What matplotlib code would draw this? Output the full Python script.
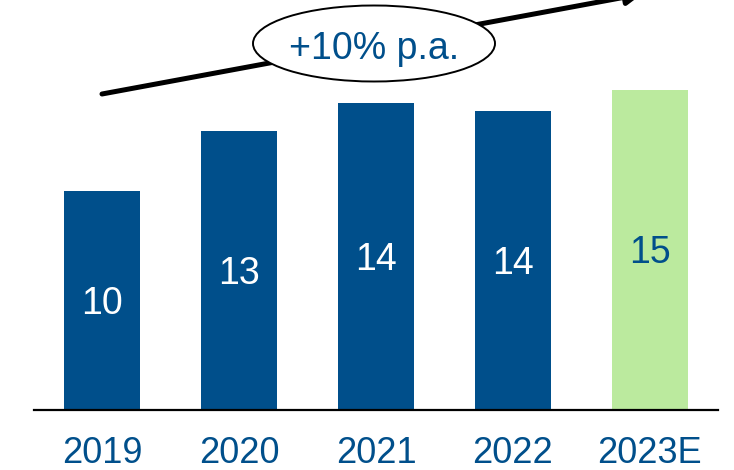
import matplotlib.pyplot as plt
from matplotlib.patches import Ellipse, FancyArrowPatch

years = ["2019", "2020", "2021", "2022", "2023E"]
revenue = [10.2, 13.0, 14.3, 13.9, 14.9]
bar_colors = ["#004F8B", "#004F8B", "#004F8B", "#004F8B", "#BBEA9E"]
label_colors = ["white", "white", "white", "white", "#004F8B"]
growth_label = "+10% p.a."

blue = "#004F8B"
plt.rcParams['font.family'] = ['Liberation Sans', 'DejaVu Sans']

fig = plt.figure(figsize=(7.34, 4.70), dpi=100)
ax = fig.add_axes([34 / 734, 60 / 470, 684 / 734, 410 / 470])

x = range(len(years))
bars = ax.bar(x, revenue, width=0.555, color=bar_colors)

for bar, val, c in zip(bars, revenue, label_colors):
    ax.text(bar.get_x() + bar.get_width() / 2, val / 2 - 0.15, f"{val:.0f}",
            ha="center", va="center", fontsize=27, color=c)

ax.set_xlim(-0.5, 4.5)
ax.set_ylim(0, 19.09)
ax.set_xticks(list(x))
ax.set_xticklabels(years, fontsize=26, color=blue)
ax.tick_params(axis="x", length=0, pad=19)
ax.set_yticks([])
for side in ["top", "right", "left"]:
    ax.spines[side].set_visible(False)
ax.spines["bottom"].set_linewidth(1.6)

# growth arrow with CAGR bubble
arrow = FancyArrowPatch((102 / 734, 376 / 470), (642 / 734, 476 / 470),
                        transform=fig.transFigure, arrowstyle="-|>,head_length=9,head_width=4.5",
                        lw=3.6, color="black", clip_on=False, shrinkA=0, shrinkB=0)
fig.patches.append(arrow)
ell = Ellipse((374 / 734, 426.5 / 470), 242 / 734, 76 / 470, transform=fig.transFigure,
              facecolor="white", edgecolor="black", lw=1.4)
fig.patches.append(ell)
fig.text(374 / 734, 421 / 470, growth_label, ha="center", va="center",
         fontsize=27, color=blue)

fig.savefig("out.png", dpi=100)
